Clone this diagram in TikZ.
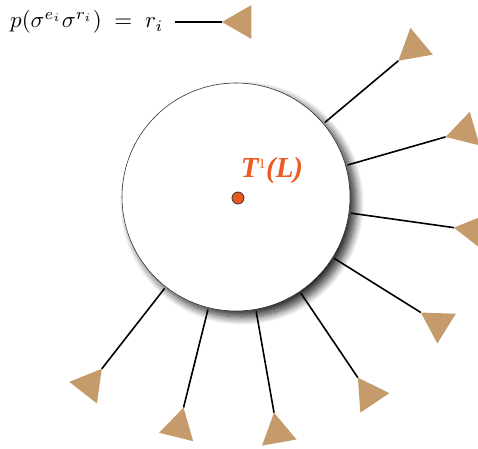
\documentclass[tikz,border=0pt]{standalone}
\usepackage{fontspec}
\newfontfamily\tfont{Liberation Serif}
\usetikzlibrary{calc,shadows.blur}
\definecolor{tan}{RGB}{197,155,108}
\definecolor{dotorange}{RGB}{233,88,28}
\definecolor{txtorange}{RGB}{238,90,36}
\tikzset{
  spoke/.style={line width=1.6pt, black},
  tri/.style={fill=tan, draw=none},
  ball/.style={circle, draw=black!80, line width=0.6pt, fill=white, minimum size=228pt, inner sep=0pt,
    blur shadow={shadow xshift=6pt, shadow yshift=-6pt, shadow blur radius=8pt, shadow blur steps=14, shadow opacity=85}},
  centerdot/.style={circle, fill=dotorange, draw=black!80, line width=0.8pt, minimum size=12pt, inner sep=0pt},
  title/.style={text=txtorange, font=\tfont\bfseries\itshape\fontsize{29}{32}\selectfont, inner sep=0pt},
  legend/.style={inner sep=0pt}
}
\begin{document}
\begin{tikzpicture}[x=1pt,y=-1pt]
\useasboundingbox (0,0) rectangle (478,448);
\clip (0,0) rectangle (478,448);
\node[ball] (c) at (236,197) {};
\foreach \a/\r [count=\i] in {-40/212,-16/218,8/220,32/218,56/218,80/219,104/217,128/218}{
  \coordinate (s\i) at ($(c.center)+(\a:116)$);
  \coordinate (e\i) at ($(c.center)+(\a:\r)$);
  \draw[spoke] (s\i) -- (e\i);
  \fill[tri] (e\i) -- ++(\a-30:35) -- ++(\a+90:35) -- cycle;
}
\node[centerdot] (d) at (238,198) {};
\node[title] (t) at (272,171) {T\textsuperscript{\mdseries\upshape\fontsize{14}{14}\selectfont 1}(L)};
\node[legend, anchor=west] (lg) at (10,22) {\scalebox{2.3}{$p(\sigma^{e_i}\sigma^{r_i})\;=\;r_i$}};
\coordinate (l0) at (175,22);
\coordinate (l1) at (222,22);
\draw[spoke] (l0) -- (l1);
\fill[tri] (l1) -- ++(-30:34) -- ++(90:34) -- cycle;
\end{tikzpicture}
\end{document}
